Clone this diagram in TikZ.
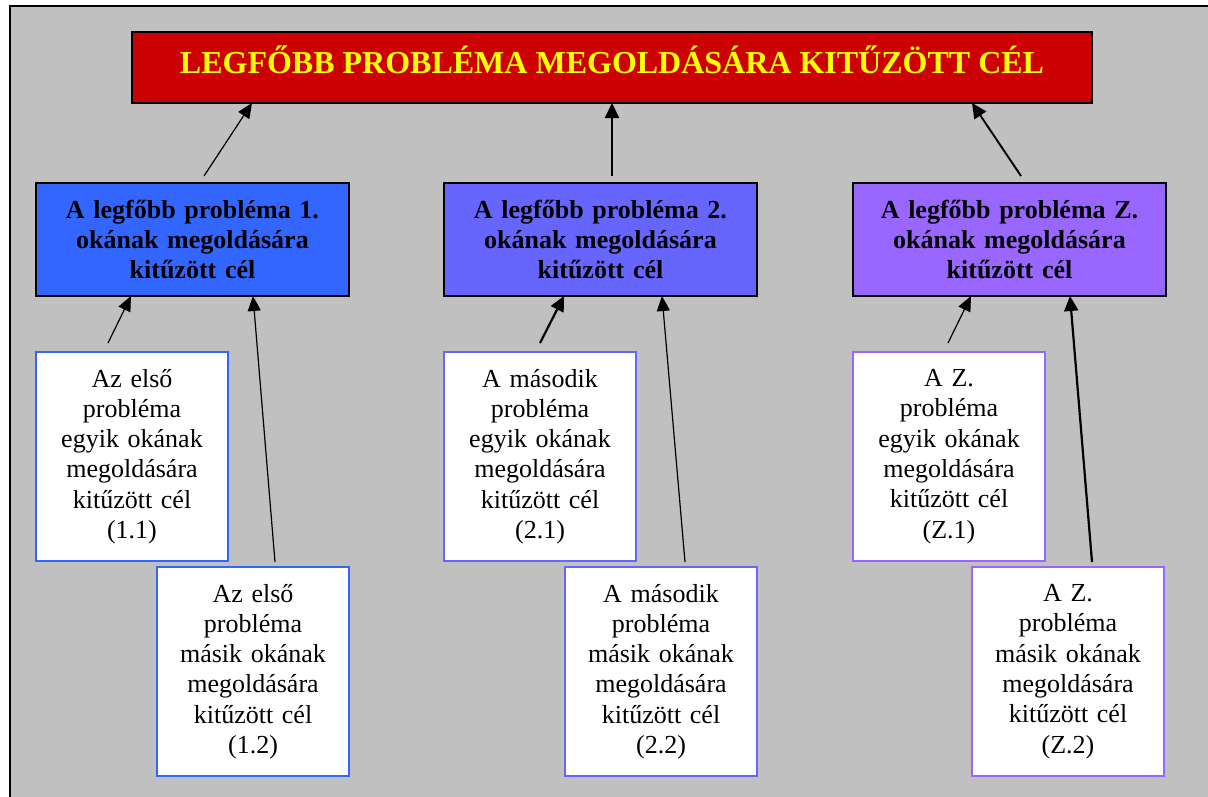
\documentclass[tikz,border=0pt]{standalone}
\usepackage{fontspec}
\setmainfont{Liberation Serif}
\usetikzlibrary{arrows.meta}
\definecolor{bggray}{HTML}{C0C0C0}
\definecolor{topred}{HTML}{CC0000}
\definecolor{topyellow}{HTML}{FFFF00}
\definecolor{blueA}{HTML}{3366FF}
\definecolor{blueB}{HTML}{6666FF}
\definecolor{blueC}{HTML}{9966FF}
\tikzset{
  titlebox/.style={draw=black, line width=2pt, fill=topred, rectangle, inner sep=0pt, outer sep=0pt,
    anchor=north west, minimum width=960pt, minimum height=71pt, text=topyellow,
    font=\fontsize{32}{36}\selectfont\bfseries, text height=21pt, text depth=10pt},
  goalbox/.style={draw=black, line width=1.6pt, rectangle, inner sep=0pt, outer sep=0pt,
    anchor=north west, minimum width=313pt, minimum height=113pt, text width=300pt, align=center,
    font=\fontsize{26}{30.3}\selectfont\bfseries},
  subbox/.style={line width=2pt, fill=white, rectangle, inner sep=0pt, outer sep=0pt,
    anchor=north west, minimum width=192pt, minimum height=209pt, text width=185pt, align=center,
    font=\fontsize{26}{30.3}\selectfont},
  thinarrow/.style={line width=1.2pt, -{Triangle[length=15pt,width=13pt]}},
  thickarrow/.style={line width=2.2pt, -{Triangle[length=15pt,width=14pt]}},
}
\begin{document}
\begin{tikzpicture}[x=1pt,y=-1pt]
\useasboundingbox (0,0) rectangle (1208,796);
\fill[bggray] (10,6) rectangle (1212,800);
\draw[line width=2pt] (10,800) -- (10,6) -- (1212,6);

\node[titlebox] (top) at (132,32) {LEGFŐBB PROBLÉMA MEGOLDÁSÁRA KITŰZÖTT CÉL};

\node[goalbox, fill=blueA] (g1) at (36,183) {A legfőbb probléma 1.\\okának megoldására\\kitűzött cél};
\node[goalbox, fill=blueB] (g2) at (444,183) {A legfőbb probléma 2.\\okának megoldására\\kitűzött cél};
\node[goalbox, fill=blueC] (g3) at (853,183) {A legfőbb probléma Z.\\okának megoldására\\kitűzött cél};

\node[subbox, draw=blueA] (s11) at (36,352) {Az első\\probléma\\egyik okának\\megoldására\\kitűzött cél\\(1.1)};
\node[subbox, draw=blueA] (s12) at (157,567) {Az első\\probléma\\másik okának\\megoldására\\kitűzött cél\\(1.2)};
\node[subbox, draw=blueB] (s21) at (444,352) {A második\\probléma\\egyik okának\\megoldására\\kitűzött cél\\(2.1)};
\node[subbox, draw=blueB] (s22) at (565,567) {A második\\probléma\\másik okának\\megoldására\\kitűzött cél\\(2.2)};
\node[subbox, draw=blueC] (s31) at (853,352) {A Z.\\probléma\\egyik okának\\megoldására\\kitűzött cél\\(Z.1)};
\node[subbox, draw=blueC] (s32) at (972,567) {A Z.\\probléma\\másik okának\\megoldására\\kitűzött cél\\(Z.2)};

% arrow tips on the upper boxes
\coordinate (ha1) at ([xshift=120pt]top.south west);
\coordinate (ha2) at ([xshift=480pt]top.south west);
\coordinate (ha3) at ([xshift=840pt]top.south west);
\coordinate (h11) at ([xshift=95pt]g1.south west);
\coordinate (h12) at ([xshift=217pt]g1.south west);
\coordinate (h21) at ([xshift=120pt]g2.south west);
\coordinate (h22) at ([xshift=218pt]g2.south west);
\coordinate (h31) at ([xshift=118pt]g3.south west);
\coordinate (h32) at ([xshift=217pt]g3.south west);
% free tails
\coordinate (ta1) at (204,176);
\coordinate (ta2) at (612,176);
\coordinate (ta3) at (1021,176);
\coordinate (t11) at (108,343);
\coordinate (t12) at (275,562);
\coordinate (t21) at (540,343);
\coordinate (t22) at (685,562);
\coordinate (t31) at (948,343);
\coordinate (t32) at (1092,562);

\draw[thinarrow] (ta1) -- (ha1);
\draw[thickarrow] (ta2) -- (ha2);
\draw[thickarrow, line width=1.9pt] (ta3) -- (ha3);
\draw[thinarrow] (t11) -- (h11);
\draw[thinarrow] (t12) -- (h12);
\draw[thickarrow] (t21) -- (h21);
\draw[thinarrow] (t22) -- (h22);
\draw[thinarrow] (t31) -- (h31);
\draw[thickarrow] (t32) -- (h32);
\end{tikzpicture}
\end{document}
